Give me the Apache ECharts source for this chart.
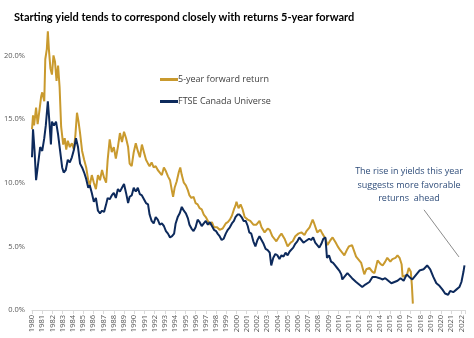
<!DOCTYPE html>
<html><head><meta charset="utf-8">
<script src="https://cdn.jsdelivr.net/npm/echarts@6/dist/echarts.min.js"></script>
<style>html,body{margin:0;padding:0;background:#fff}#c{width:474px;height:338px}</style>
</head><body><div id="c"></div>
<script>
// Decimal-year dates and values (%)
const yieldYears = [1980.0,1980.1,1980.25,1980.4,1980.6,1980.8,1981.0,1981.2,1981.35,1981.55,1981.7,1981.85,1981.95,1982.15,1982.35,1982.55,1982.75,1982.95,1983.1,1983.3,1983.5,1983.7,1983.9,1984.1,1984.3,1984.5,1984.7,1984.9,1985.1,1985.3,1985.5,1985.65,1985.85,1986.05,1986.25,1986.45,1986.65,1986.85,1987.05,1987.25,1987.4,1987.6,1987.8,1988.0,1988.2,1988.4,1988.6,1988.8,1989.0,1989.2,1989.4,1989.55,1989.75,1989.95,1990.15,1990.35,1990.55,1990.75,1990.95,1991.15,1991.35,1991.5,1991.7,1991.9,1992.1,1992.3,1992.5,1992.7,1992.9,1993.1,1993.3,1993.5,1993.7,1993.9,1994.05,1994.25,1994.45,1994.65,1994.85,1995.05,1995.25,1995.4,1995.6,1995.8,1996.0,1996.2,1996.4,1996.6,1996.8,1997.0,1997.2,1997.4,1997.6,1997.8,1998.0,1998.15,1998.35,1998.55,1998.75,1998.95,1999.15,1999.35,1999.55,1999.75,1999.9,2000.1,2000.3,2000.5,2000.7,2000.9,2001.1,2001.25,2001.45,2001.65,2001.85,2002.05,2002.25,2002.45,2002.65,2002.85,2003.05,2003.25,2003.4,2003.6,2003.8,2004.0,2004.2,2004.4,2004.6,2004.8,2005.0,2005.2,2005.35,2005.55,2005.75,2005.95,2006.15,2006.35,2006.55,2006.75,2006.9,2007.1,2007.3,2007.5,2007.7,2007.9,2008.1,2008.3,2008.5,2008.7,2008.85,2009.05,2009.25,2009.45,2009.65,2009.85,2010.05,2010.25,2010.35,2010.55,2010.85,2011.0,2011.3,2011.7,2012.0,2012.3,2012.6,2013.0,2013.3,2013.6,2014.0,2014.3,2014.55,2014.85,2015.15,2015.45,2015.75,2016.05,2016.35,2016.65,2016.9,2017.2,2017.5,2017.9,2018.3,2018.65,2018.95,2019.25,2019.55,2019.85,2020.15,2020.4,2020.7,2020.9,2021.2,2021.5,2021.8,2022.0,2022.2,2022.3];
const yieldValues = [12.0,14.2,12.5,10.2,11.5,12.8,12.5,13.5,14.5,16.4,14.8,13.0,14.8,14.5,14.8,13.8,12.5,11.2,10.8,11.0,11.8,11.6,12.0,12.6,13.5,12.8,11.5,11.2,10.8,10.3,9.6,9.8,9.2,8.5,8.8,7.8,7.6,7.8,7.7,8.3,8.8,8.7,9.0,9.2,8.8,9.5,9.3,9.6,9.9,9.2,8.4,8.9,9.0,9.6,9.3,9.6,9.1,9.0,8.7,8.4,8.3,7.5,7.0,6.8,7.3,7.1,6.7,6.8,6.6,6.2,6.0,5.7,5.8,6.0,6.8,7.3,7.6,8.1,7.8,7.6,7.2,6.7,6.4,6.2,6.5,7.1,6.9,6.6,6.8,7.0,6.7,6.9,6.6,6.3,6.2,6.0,5.8,5.5,5.6,6.0,6.3,6.5,6.8,7.0,7.3,7.5,7.5,7.3,7.0,7.0,6.6,6.1,6.0,5.4,5.0,5.5,5.8,5.5,5.2,4.8,4.7,4.5,3.5,4.1,4.4,4.3,4.0,4.3,4.2,4.5,4.3,4.6,4.7,4.9,5.2,5.4,5.7,5.5,5.3,5.4,5.3,5.6,5.5,5.7,5.3,5.1,4.9,5.2,5.6,5.7,4.1,4.3,3.8,3.7,3.5,3.3,3.1,2.8,2.4,2.6,2.9,3.0,2.5,2.2,2.0,1.8,2.0,2.2,2.6,2.6,2.5,2.4,2.5,2.3,2.1,2.2,2.3,2.5,2.3,2.8,2.6,2.4,2.7,3.1,3.2,3.5,3.2,2.6,2.1,1.9,1.6,1.3,1.2,1.5,1.4,1.6,1.8,2.2,3.0,3.5];

const returnYears = [1980.0,1980.1,1980.2,1980.4,1980.55,1980.7,1980.9,1981.0,1981.2,1981.3,1981.45,1981.55,1981.65,1981.8,1981.95,1982.1,1982.25,1982.4,1982.55,1982.7,1982.85,1983.05,1983.2,1983.35,1983.5,1983.7,1983.9,1984.1,1984.25,1984.4,1984.55,1984.7,1984.9,1985.1,1985.3,1985.5,1985.65,1985.85,1986.05,1986.25,1986.45,1986.65,1986.85,1987.05,1987.25,1987.4,1987.6,1987.8,1988.0,1988.2,1988.4,1988.6,1988.8,1989.0,1989.2,1989.4,1989.55,1989.75,1989.95,1990.15,1990.35,1990.55,1990.75,1990.95,1991.15,1991.35,1991.5,1991.7,1991.9,1992.1,1992.3,1992.5,1992.7,1992.9,1993.1,1993.3,1993.5,1993.7,1993.8,1993.95,1994.15,1994.35,1994.5,1994.65,1994.85,1995.05,1995.25,1995.4,1995.6,1995.8,1996.0,1996.2,1996.4,1996.6,1996.8,1997.0,1997.2,1997.4,1997.6,1997.8,1998.1,1998.35,1998.65,1998.95,1999.15,1999.35,1999.55,1999.75,1999.9,2000.0,2000.2,2000.4,2000.6,2000.8,2001.1,2001.35,2001.65,2001.95,2002.25,2002.45,2002.75,2003.05,2003.25,2003.5,2003.9,2004.2,2004.4,2004.7,2005.0,2005.3,2005.5,2005.75,2006.05,2006.35,2006.65,2006.85,2007.15,2007.45,2007.6,2007.9,2008.2,2008.4,2008.7,2008.9,2009.2,2009.4,2009.7,2009.9,2010.15,2010.55,2010.85,2011.0,2011.3,2011.7,2012.0,2012.2,2012.5,2012.7,2013.0,2013.3,2013.5,2013.8,2014.1,2014.3,2014.55,2014.75,2015.05,2015.25,2015.55,2015.75,2015.95,2016.15,2016.25,2016.45,2016.65,2016.85,2017.05,2017.15,2017.25];
const returnValues = [14.2,15.3,14.5,15.9,14.6,15.5,16.8,17.1,16.4,19.7,20.5,21.9,20.5,19.0,18.5,20.0,19.5,18.0,19.2,17.5,14.4,13.0,13.5,12.6,13.3,12.8,13.1,12.6,13.8,15.5,14.8,13.9,12.5,11.8,11.2,10.2,9.8,10.6,10.0,9.5,10.6,10.2,11.0,10.4,10.0,11.8,13.4,12.4,12.8,11.9,12.8,13.9,13.2,14.0,13.5,12.8,11.5,11.3,12.4,13.1,12.5,12.0,13.0,12.4,11.8,11.5,11.3,11.6,11.2,11.3,11.0,10.8,10.6,11.2,10.9,10.5,10.2,9.3,8.9,9.6,10.1,10.8,11.2,10.6,10.0,9.8,9.4,9.0,8.8,8.9,8.4,8.3,8.0,7.9,7.5,7.3,7.0,6.7,6.9,6.5,6.5,6.3,6.4,6.8,6.9,7.1,7.4,7.9,8.2,8.5,8.0,8.3,7.9,7.3,7.1,7.0,6.7,6.7,7.0,6.5,6.1,6.4,6.3,5.8,5.4,5.8,6.0,5.6,5.0,5.3,5.4,5.8,6.0,6.1,5.9,6.2,6.5,7.1,6.8,6.1,6.3,6.0,5.6,5.1,5.5,5.7,5.3,5.0,4.7,4.3,4.8,5.0,5.1,4.2,3.9,3.7,2.8,3.2,3.3,3.0,2.9,3.9,3.6,3.5,3.8,4.1,3.8,4.0,4.1,4.3,4.1,3.6,2.6,2.7,2.7,3.3,3.0,2.0,0.5];

const seriesNames = ['5-year forward return', 'FTSE Canada Universe'];
const yTicks = [0, 5, 10, 15, 20];
const titleText = 'Starting yield tends to correspond closely with returns 5-year forward';
const noteLines = ['The rise in yields this year', 'suggests more favorable', 'returns  ahead'];

const zip = (xs, ys) => xs.map((x, i) => [x, ys[i]]);
const chart = echarts.init(document.getElementById('c'), null, {renderer: 'canvas'});
const FONT = 'Open Sans';
chart.setOption({
  animation: false,
  backgroundColor: '#fff',
  title: {text: titleText, left: 9, top: 7,
    textStyle: {fontFamily: 'Lato', fontSize: 11, fontWeight: 'bold', color: '#000'}},
  legend: {orient: 'vertical', left: 155, top: 70, itemGap: 13, itemWidth: 18, itemHeight: 3,
    icon: 'rect', data: seriesNames,
    textStyle: {fontFamily: FONT, fontSize: 9, color: '#404040', padding: [0,0,0,-5]}},
  grid: {left: 32, right: 9, top: 30, bottom: 28},
  xAxis: {type: 'value', min: 1980, max: 2022.35, interval: 1,
    axisLine: {lineStyle: {color: '#d9d9d9'}},
    axisTick: {lineStyle: {color: '#d9d9d9'}, length: 4},
    splitLine: {show: false},
    axisLabel: {rotate: 90, fontFamily: FONT, fontSize: 7.5, color: '#595959', margin: 5,
      formatter: v => Number.isInteger(v) ? String(v) : ''}},
  yAxis: {type: 'value', min: 0, max: 22, interval: 5,
    axisLine: {show: false}, axisTick: {show: false}, splitLine: {show: false},
    axisLabel: {fontFamily: FONT, fontSize: 7.5, color: '#595959', margin: 7, showMaxLabel: false,
      formatter: v => yTicks.includes(v) ? v.toFixed(1) + '%' : ''}},
  series: [
    {name: seriesNames[0], type: 'line', data: zip(returnYears, returnValues), showSymbol: false,
      lineStyle: {color: '#C99A2E', width: 2}, itemStyle: {color: '#C99A2E'}, z: 2},
    {name: seriesNames[1], type: 'line', data: zip(yieldYears, yieldValues), showSymbol: false,
      lineStyle: {color: '#0D2A5C', width: 2}, itemStyle: {color: '#0D2A5C'}, z: 3,
      markLine: {silent: true, symbol: 'none', label: {show: false},
        lineStyle: {color: '#8c8c8c', width: 1, type: 'solid'},
        data: [[{coord: [2018.34, 7.87]}, {coord: [2021.76, 4.17]}]]}}
  ],
  graphic: noteLines.map((t, i) => ({type: 'text', x: 409, y: 167 + i * 13.5,
      style: {text: t, fill: '#2F4D7A', font: '9px "Open Sans"', textAlign: 'center'}}))
});
</script></body></html>
